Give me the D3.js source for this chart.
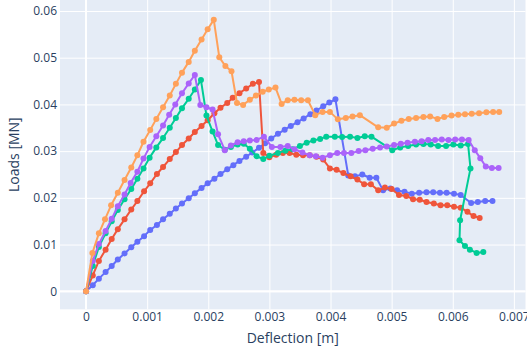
<!DOCTYPE html>
<meta charset="utf-8">
<style>
    * {
        margin: 0px;
    }
    body {
        background: #fff;
    }
    text {
        font-family: "Open Sans", verdana, arial, sans-serif;
        fill: #2a3f5f;
    }
    .grid line {
        stroke: #fff;
        stroke-width: 1px;
    }
    .grid path {
        display: none;
    }
    .grid text {
        font-size: 12px;
    }
    .title {
        font-size: 14px;
    }
</style>
<svg width="527" height="349"></svg>
<script src="https://d3js.org/d3.v7.min.js"></script>
<script>
    // [deflection m, load MN]
    var blue = [[0,0],[0.00011,0.0013],[0.00021,0.0027],[0.00032,0.0041],[0.00042,0.0054],[0.00052,0.0068],[0.00063,0.0081],[0.00074,0.0094],[0.00084,0.0106],[0.00095,0.0118],[0.00105,0.0131],[0.00116,0.0142],[0.00126,0.0154],[0.00137,0.0166],[0.00147,0.0177],[0.00157,0.0188],[0.00168,0.0199],[0.00178,0.021],[0.00189,0.0221],[0.00199,0.0231],[0.0021,0.0241],[0.0022,0.0251],[0.00231,0.0261],[0.00241,0.027],[0.00251,0.0279],[0.00262,0.0288],[0.00272,0.0297],[0.00283,0.0307],[0.00293,0.0317],[0.00303,0.0327],[0.00314,0.0337],[0.00325,0.0346],[0.00335,0.0354],[0.00346,0.0362],[0.00356,0.037],[0.00367,0.0379],[0.00377,0.0387],[0.00388,0.0396],[0.00398,0.0404],[0.00408,0.0411],[0.00429,0.0248],[0.0044,0.0246],[0.00452,0.025],[0.00464,0.0243],[0.00475,0.0243],[0.00486,0.0216],[0.00498,0.022],[0.00509,0.0216],[0.00521,0.0213],[0.00533,0.0209],[0.00545,0.0211],[0.00557,0.0212],[0.00568,0.0212],[0.00579,0.0211],[0.0059,0.0211],[0.00602,0.0209],[0.00613,0.0206],[0.0063,0.0189],[0.00641,0.0191],[0.00653,0.0193],[0.00665,0.0193]];
    var red = [[0,0],[0.00011,0.0034],[0.00021,0.0065],[0.00032,0.0089],[0.00042,0.0112],[0.00052,0.0133],[0.00063,0.0154],[0.00074,0.0175],[0.00084,0.0193],[0.00095,0.0214],[0.00105,0.0231],[0.00116,0.0251],[0.00126,0.0266],[0.00137,0.0283],[0.00147,0.0298],[0.00157,0.0313],[0.00168,0.0327],[0.00178,0.0341],[0.00189,0.0354],[0.00199,0.0366],[0.0021,0.0381],[0.0022,0.0393],[0.00231,0.0403],[0.0024,0.0414],[0.00251,0.0424],[0.00262,0.0434],[0.00273,0.0444],[0.00283,0.0448],[0.0029,0.0296],[0.003,0.0287],[0.00311,0.0292],[0.00322,0.0296],[0.00333,0.0296],[0.00344,0.0292],[0.00355,0.0291],[0.00366,0.0291],[0.00377,0.0288],[0.00388,0.0282],[0.00399,0.0263],[0.0041,0.026],[0.00421,0.0253],[0.00433,0.0246],[0.00444,0.0239],[0.00455,0.0229],[0.00466,0.0229],[0.00478,0.0216],[0.00489,0.0222],[0.005,0.0219],[0.00512,0.0206],[0.00524,0.0204],[0.00535,0.0197],[0.00546,0.0196],[0.00557,0.0191],[0.00569,0.0188],[0.0058,0.0184],[0.00591,0.0184],[0.00602,0.0181],[0.00613,0.0179],[0.00624,0.017],[0.00634,0.0161],[0.00644,0.0157]];
    var green = [[0,0],[0.00011,0.0054],[0.00021,0.0095],[0.00032,0.0124],[0.00042,0.015],[0.00052,0.0174],[0.00063,0.0197],[0.00074,0.0219],[0.00084,0.0241],[0.00094,0.0263],[0.00104,0.0286],[0.00115,0.0308],[0.00126,0.0328],[0.00137,0.035],[0.00147,0.0371],[0.00157,0.0392],[0.00168,0.0412],[0.00178,0.0432],[0.00188,0.0452],[0.00197,0.0376],[0.00207,0.0342],[0.00216,0.0313],[0.00227,0.0303],[0.00237,0.0309],[0.00248,0.0314],[0.00258,0.0316],[0.00268,0.0305],[0.00279,0.0289],[0.0029,0.0283],[0.003,0.029],[0.00314,0.0296],[0.00326,0.0301],[0.00338,0.0304],[0.0035,0.0311],[0.00361,0.0318],[0.00372,0.0323],[0.00383,0.0326],[0.00393,0.0331],[0.00407,0.0331],[0.00419,0.033],[0.00432,0.0331],[0.00444,0.0328],[0.00456,0.0332],[0.00467,0.0331],[0.00501,0.0302],[0.00514,0.0308],[0.00527,0.0311],[0.0054,0.0314],[0.00552,0.0315],[0.00564,0.0314],[0.00576,0.0311],[0.00589,0.0311],[0.00601,0.0314],[0.00613,0.0312],[0.00625,0.0315],[0.00629,0.0263],[0.00612,0.0152],[0.00611,0.0109],[0.0062,0.0097],[0.00628,0.0089],[0.00639,0.0082],[0.0065,0.0084]];
    var purple = [[0,0],[0.00011,0.0065],[0.00021,0.0101],[0.00032,0.0129],[0.00042,0.0155],[0.00052,0.0182],[0.00063,0.0207],[0.00073,0.0232],[0.00084,0.0256],[0.00094,0.0284],[0.00104,0.0309],[0.00115,0.0332],[0.00126,0.0355],[0.00136,0.0378],[0.00146,0.04],[0.00157,0.0424],[0.00168,0.0445],[0.00178,0.0463],[0.00187,0.0399],[0.00197,0.0394],[0.00207,0.0389],[0.00216,0.0336],[0.00227,0.0302],[0.00237,0.0312],[0.00248,0.0319],[0.00258,0.0321],[0.00268,0.0323],[0.00279,0.0324],[0.00291,0.0331],[0.00304,0.0309],[0.00318,0.0309],[0.0033,0.0311],[0.00341,0.0304],[0.00354,0.0297],[0.00366,0.0291],[0.00376,0.0289],[0.00387,0.0286],[0.00399,0.0291],[0.00411,0.0296],[0.00422,0.0296],[0.00434,0.0296],[0.00446,0.03],[0.00457,0.0302],[0.00469,0.0305],[0.00481,0.0308],[0.00492,0.031],[0.00504,0.0313],[0.00515,0.0316],[0.00526,0.0318],[0.00538,0.032],[0.00549,0.0321],[0.0056,0.0324],[0.00571,0.0324],[0.00582,0.0325],[0.00593,0.0324],[0.00604,0.0325],[0.00615,0.0325],[0.00626,0.0324],[0.00636,0.0302],[0.00645,0.0285],[0.00654,0.0267],[0.00664,0.0264],[0.00675,0.0264]];
    var orange = [[0,0],[0.000104,0.0082],[0.00021,0.0124],[0.00031,0.0154],[0.00041,0.0184],[0.00052,0.0211],[0.00063,0.0238],[0.00074,0.0265],[0.00084,0.0291],[0.00094,0.032],[0.00105,0.0345],[0.00115,0.0369],[0.00126,0.0394],[0.00137,0.0419],[0.00147,0.0444],[0.00157,0.0468],[0.00168,0.0491],[0.00178,0.0515],[0.00189,0.0539],[0.00199,0.0561],[0.00209,0.0581],[0.00218,0.0501],[0.00228,0.0482],[0.00238,0.0471],[0.00247,0.0403],[0.00257,0.0399],[0.00268,0.041],[0.00278,0.0419],[0.00289,0.0427],[0.00299,0.0432],[0.0031,0.0436],[0.0032,0.0401],[0.0033,0.0409],[0.00341,0.041],[0.00352,0.0409],[0.00363,0.0409],[0.00375,0.0377],[0.00387,0.0384],[0.00399,0.0384],[0.00412,0.0368],[0.00425,0.0371],[0.00436,0.0374],[0.00448,0.0377],[0.00478,0.0351],[0.00492,0.035],[0.00504,0.0359],[0.00516,0.0365],[0.00528,0.0369],[0.0054,0.0371],[0.00552,0.0373],[0.00563,0.0374],[0.00575,0.0369],[0.00586,0.0373],[0.00598,0.0376],[0.00609,0.0378],[0.0062,0.0379],[0.00631,0.038],[0.00643,0.0381],[0.00655,0.0383],[0.00666,0.0384],[0.00676,0.0384]];

    var xTicks = [0, 0.001, 0.002, 0.003, 0.004, 0.005, 0.006, 0.007];
    var xLabels = ["0", "0.001", "0.002", "0.003", "0.004", "0.005", "0.006", "0.007"];
    var yTicks = [0, 0.01, 0.02, 0.03, 0.04, 0.05, 0.06];
    var yLabels = ["0", "0.01", "0.02", "0.03", "0.04", "0.05", "0.06"];

    var series = [blue, red, green, purple, orange];
    var colors = ["#636efa", "#EF553B", "#00cc96", "#ab63fa", "#FFA15A"];

    var svg = d3.select("svg");
    var padL = 60, padR = 525.5, padT = 0, padB = 309.3;

    var x = d3.scaleLinear().domain([-0.000426, 0.00719]).range([padL, padR]);
    var y = d3.scaleLinear().domain([-0.00386, 0.06235]).range([padB, padT]);

    svg.append("rect")
        .attr("x", padL).attr("y", padT)
        .attr("width", padR - padL).attr("height", padB - padT)
        .attr("fill", "#E5ECF6");

    svg.append("g")
        .attr("class", "grid")
        .attr("color", "#2a3f5f")
        .attr("transform", "translate(0," + padB + ")")
        .call(d3.axisBottom(x).tickValues(xTicks).tickSize(-(padB - padT)).tickPadding(3)
            .tickFormat(function(d, i) { return xLabels[i]; }));

    svg.append("g")
        .attr("class", "grid")
        .attr("color", "#2a3f5f")
        .attr("transform", "translate(" + padL + ",0)")
        .call(d3.axisLeft(y).tickValues(yTicks).tickSize(-(padR - padL)).tickPadding(3)
            .tickFormat(function(d, i) { return yLabels[i]; }));

    // zero lines
    svg.append("line")
        .attr("x1", x(0)).attr("x2", x(0)).attr("y1", padT).attr("y2", padB)
        .attr("stroke", "#fff").attr("stroke-width", 2);
    svg.append("line")
        .attr("x1", padL).attr("x2", padR).attr("y1", y(0)).attr("y2", y(0))
        .attr("stroke", "#fff").attr("stroke-width", 2);

    svg.append("clipPath").attr("id", "clip")
        .append("rect")
        .attr("x", padL).attr("y", padT)
        .attr("width", padR - padL).attr("height", padB - padT);

    var line = d3.line()
        .x(function(d) { return x(d[0]); })
        .y(function(d) { return y(d[1]); });

    var plot = svg.append("g").attr("clip-path", "url(#clip)");

    series.forEach(function(data, i) {
        var g = plot.append("g");
        g.append("path")
            .datum(data)
            .attr("d", line)
            .attr("fill", "none")
            .attr("stroke", colors[i])
            .attr("stroke-width", 2)
            .attr("stroke-linejoin", "round");
        g.selectAll("circle")
            .data(data)
            .enter().append("circle")
            .attr("cx", function(d) { return x(d[0]); })
            .attr("cy", function(d) { return y(d[1]); })
            .attr("r", 3)
            .attr("fill", colors[i]);
    });

    svg.append("text")
        .attr("class", "title")
        .attr("x", (padL + padR) / 2)
        .attr("y", 342.5)
        .attr("text-anchor", "middle")
        .text("Deflection [m]");

    svg.append("text")
        .attr("class", "title")
        .attr("transform", "translate(19," + ((padT + padB) / 2) + ") rotate(-90)")
        .attr("text-anchor", "middle")
        .text("Loads [MN]");
</script>
